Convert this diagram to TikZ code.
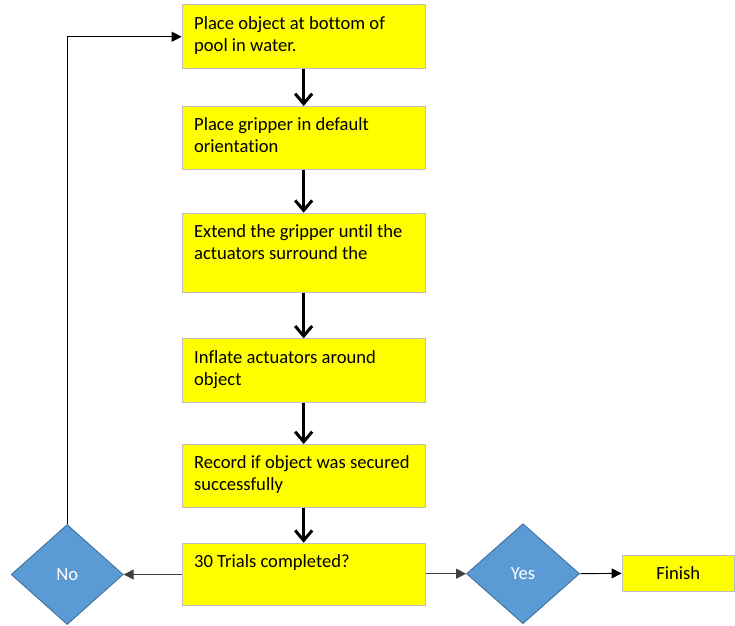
\documentclass[tikz,border=0pt]{standalone}
\usepackage{fontspec}
\setmainfont{Carlito}[Ligatures={NoCommon}]
\usetikzlibrary{shapes.geometric,arrows.meta}
\definecolor{boxyellow}{HTML}{FFFF00}
\definecolor{boxedge}{HTML}{BFBFBF}
\definecolor{diafill}{HTML}{5B9BD5}
\definecolor{diaedge}{HTML}{41719C}
\newcommand{\bxtext}[2]{\begin{minipage}[c][#1][t]{243pt}\vspace*{11.5pt}\hspace*{12pt}\parbox[t]{228pt}{\raggedright\fontsize{18.6}{22}\selectfont #2}\end{minipage}}
\tikzset{
  stepbox/.style={draw=boxedge, line width=0.9pt, fill=boxyellow, inner sep=0pt, anchor=north west, text=black},
  decbox/.style={diamond, draw=diaedge, line width=0.9pt, fill=diafill, inner sep=0pt, minimum width=112pt, minimum height=100pt, text=white, font=\fontsize{18.6}{22}\selectfont},
  thickarrow/.style={line width=3pt, -{Straight Barb[length=10pt,width=17pt,line width=3pt]}},
  thinarrow/.style={line width=0.9pt, -{Triangle[length=10pt,width=10pt]}}
}
\begin{document}
\begin{tikzpicture}[x=1pt,y=-1pt]
\useasboundingbox (0,0) rectangle (735,625);
\node[stepbox] (b1) at (181.7,4.3) {\bxtext{64pt}{Place object at bottom of\\pool in water.}};
\node[stepbox] (b2) at (181.7,106) {\bxtext{63.3pt}{Place gripper in default\\orientation}};
\node[stepbox] (b3) at (181.7,212.7) {\bxtext{79.6pt}{Extend the gripper until the\\actuators surround the}};
\node[stepbox] (b4) at (181.7,338.3) {\bxtext{63.4pt}{Inflate actuators around\\object}};
\node[stepbox] (b5) at (181.7,444) {\bxtext{62.7pt}{Record if object was secured\\successfully}};
\node[stepbox] (b6) at (181.7,542.7) {\bxtext{62.6pt}{30 Trials completed?}};
\node[decbox] (no) at (67.2,574.5) {No};
\node[decbox, minimum width=113pt] (yes) at (523,573.7) {Yes};
\node[draw=boxedge, line width=0.9pt, fill=boxyellow, minimum width=112.5pt, minimum height=36.7pt, inner sep=0pt, font=\fontsize{18.6}{22}\selectfont] (fin) at (678.3,573.3) {Finish};
\foreach \a/\b in {b1/b2,b2/b3,b3/b4,b4/b5,b5/b6}{
  \draw[thickarrow] (\a.south) -- (\b.north);
}
\draw[thinarrow, draw=black!75] (b6.west |- no.east) -- (no.east);
\draw[thinarrow] (no.north) |- (b1.west);
\draw[thinarrow, draw=black!75] (b6.east |- yes.west) -- (yes.west);
\draw[thinarrow] (yes.east) -- (fin.west);
\end{tikzpicture}
\end{document}
